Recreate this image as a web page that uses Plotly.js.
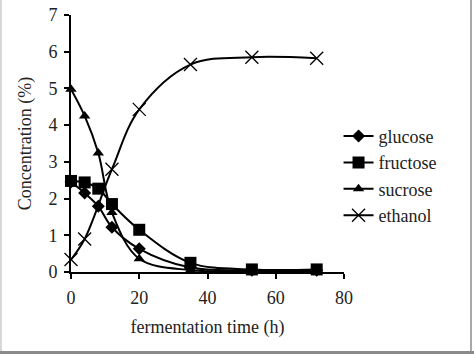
<!DOCTYPE html>
<html><head><meta charset="utf-8">
<script src="https://cdn.plot.ly/plotly-3.0.1.min.js"></script>
<style>
html,body{margin:0;padding:0;background:#fff;}
#wrap{position:relative;width:474px;height:354px;overflow:hidden;}
#chart{position:absolute;left:0;top:0;width:474px;height:354px;}
#bl{position:absolute;left:0;top:0;width:2px;height:354px;background:#d8d8d8;}
#br{position:absolute;left:470px;top:0;width:2px;height:354px;background:#a8a8a8;}
#bb{position:absolute;left:0;top:351px;width:474px;height:3px;background:#8a8a8a;}
</style></head>
<body><div id="wrap"><div id="chart"></div><div id="bl"></div><div id="br"></div><div id="bb"></div></div>
<script>
const seriesNames = ["glucose", "fructose", "sucrose", "ethanol"];
const timeSugars = [0, 4, 8, 12, 20, 35, 53, 72];
const glucose  = [2.45, 2.15, 1.79, 1.22, 0.63, 0.12, 0.05, 0.05];
const fructose = [2.48, 2.44, 2.27, 1.85, 1.15, 0.25, 0.07, 0.07];
const sucrose  = [4.98, 4.25, 3.24, 1.62, 0.36, 0.05, 0.03, 0.03];
const timeEthanol = [0, 4, 12, 20, 35, 53, 72];
const ethanol  = [0.34, 0.9, 2.8, 4.43, 5.65, 5.85, 5.82];
const xTicks = [0, 20, 40, 60, 80];

const font = "Liberation Serif, Times New Roman, serif";
const fs = 18;
const symbols = ["diamond", "square", "triangle-up", "x-thin-open"];
const sizes = [10, 12, 10, 13];
const xs = [timeSugars, timeSugars, timeSugars, timeEthanol];
const ys = [glucose, fructose, sucrose, ethanol];

const traces = seriesNames.map((n, i) => ({
  x: xs[i], y: ys[i], name: n, type: "scatter", mode: "lines+markers",
  legendgroup: "g" + i,
  line: {color: "#000", width: 2, shape: "spline", smoothing: 1},
  marker: {symbol: symbols[i], size: sizes[i], color: "#000",
           line: {color: "#000", width: i === 3 ? 1.3 : 0}},
  cliponaxis: false
}));

const layout = {
  width: 474, height: 354,
  margin: {l: 70.5, r: 130, t: 15, b: 81.5, pad: 0},
  paper_bgcolor: "#fff", plot_bgcolor: "#fff",
  font: {family: font, size: fs, color: "#222"},
  showlegend: true,
  legend: {x: 0.98, xanchor: "left", y: 0.6, yanchor: "top",
           font: {family: font, size: fs, color: "#222"},
           tracegroupgap: 0, itemwidth: 30, bgcolor: "rgba(0,0,0,0)"},
  xaxis: {range: [0, 80], tickvals: xTicks, ticks: "outside", ticklen: 5, tickwidth: 2,
          tickcolor: "#000", showline: true, linecolor: "#000", linewidth: 2,
          showgrid: false, zeroline: false, ticklabelstandoff: 3,
          title: {text: "fermentation time (h)", standoff: 14, font: {family: font, size: fs, color: "#222"}}},
  yaxis: {range: [0, 7], dtick: 1, ticks: "outside", ticklen: 5, tickwidth: 2,
          tickcolor: "#000", showline: true, linecolor: "#000", linewidth: 2,
          showgrid: false, zeroline: false, ticklabelstandoff: 3,
          title: {text: "Concentration (%)", standoff: 12, font: {family: font, size: fs, color: "#222"}}}
};
Plotly.newPlot("chart", traces, layout, {staticPlot: true, displayModeBar: false});
</script></body></html>
